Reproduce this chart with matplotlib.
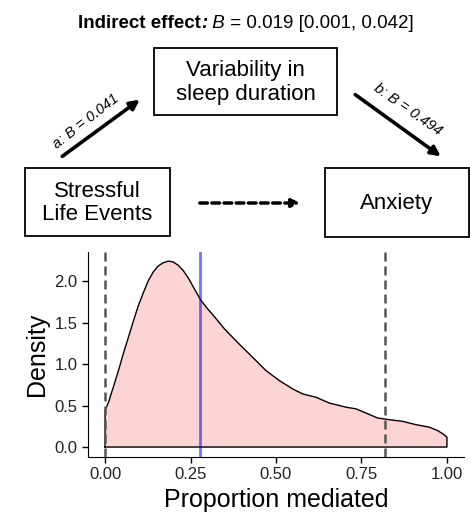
import numpy as np
import matplotlib.pyplot as plt
from matplotlib.patches import Rectangle, FancyArrowPatch

plt.rcParams['font.family'] = ['Liberation Sans', 'DejaVu Sans']

# density of proportion mediated
prop_x = [0.0, 0.010, 0.024, 0.039, 0.053, 0.068, 0.083, 0.097, 0.112, 0.126,
          0.141, 0.155, 0.170, 0.185, 0.199, 0.214, 0.228, 0.243, 0.262, 0.280,
          0.301, 0.316, 0.350, 0.390, 0.432, 0.471, 0.510, 0.549, 0.578, 0.617,
          0.656, 0.705, 0.734, 0.763, 0.797, 0.831, 0.870, 0.909, 0.948, 0.972,
          0.988, 1.0]
density = [0.44, 0.54, 0.72, 0.92, 1.12, 1.32, 1.52, 1.70, 1.86, 2.00,
           2.11, 2.18, 2.22, 2.24, 2.23, 2.19, 2.13, 2.04, 1.90, 1.77,
           1.66, 1.59, 1.42, 1.25, 1.08, 0.92, 0.80, 0.70, 0.64, 0.60,
           0.53, 0.48, 0.46, 0.41, 0.35, 0.33, 0.31, 0.27, 0.24, 0.20,
           0.16, 0.12]
ci_bounds = [0.0, 0.82]
point_est = 0.278
x_ticks = [0.0, 0.25, 0.5, 0.75, 1.0]
y_ticks = [0.0, 0.5, 1.0, 1.5, 2.0]

fig = plt.figure(figsize=(4.7, 5.17), dpi=100)

# ---- density panel ----
ax = fig.add_axes([88/470, 60/517, 376/470, 205/517])
px = np.array(prop_x)
py = np.array(density)
ax.fill_between(px, 0, py, color='#fdd4d4', lw=0)
ax.plot(np.r_[px[0], px, px[-1], px[0]], np.r_[0, py, 0, 0], color='black',
        lw=1, solid_joinstyle='round')
for c in ci_bounds:
    ax.axvline(c, color='#555555', lw=1.8, dashes=(3.6, 2))
ax.axvline(point_est, color='blue', alpha=0.55, lw=2)
ax.set_xlim(-0.05, 1.05)
ax.set_ylim(-0.12, 2.35)
ax.set_xticks(x_ticks)
ax.set_xticklabels(['0.00', '0.25', '0.50', '0.75', '1.00'])
ax.set_yticks(y_ticks)
ax.set_yticklabels(['0.0', '0.5', '1.0', '1.5', '2.0'])
ax.tick_params(labelsize=12, labelcolor='#222222', color='black', length=4, width=1)
for s in ['top', 'right']:
    ax.spines[s].set_visible(False)
ax.set_xlabel('Proportion mediated', fontsize=18, labelpad=4)
ax.set_ylabel('Density', fontsize=18, labelpad=4)

# ---- mediation diagram ----
ov = fig.add_axes([0, 0, 1, 1])
ov.set_xlim(0, 470)
ov.set_ylim(517, 0)
ov.axis('off')

boxes = [
    (154, 48, 183, 67, 'Variability in\nsleep duration'),
    (25, 168, 145, 68, 'Stressful\nLife Events'),
    (325, 168, 144, 69, 'Anxiety'),
]
for bx, by, bw, bh, label in boxes:
    ov.add_patch(Rectangle((bx, by), bw, bh, fill=False, ec='black', lw=1.3))
    ov.text(bx + bw/2, by + bh/2 + 1, label, ha='center', va='center',
            fontsize=16, linespacing=1.15)

ov.add_patch(FancyArrowPatch((60, 158), (142, 98), arrowstyle='-|>',
                             mutation_scale=14, lw=2.6, color='black'))
ov.add_patch(FancyArrowPatch((353, 93), (443, 158), arrowstyle='-|>',
                             mutation_scale=14, lw=2.6, color='black'))
ov.add_patch(FancyArrowPatch((197, 203), (303, 203), arrowstyle='-|>',
                             mutation_scale=12, lw=2.5, color='black',
                             linestyle=(0, (2.2, 1.3))))

ov.text(86, 121, 'a: B = 0.041', rotation=38, ha='center', va='center',
        fontsize=10.5, style='italic')
ov.text(408, 110, 'b: B = 0.494', rotation=-35, ha='center', va='center',
        fontsize=10.5, style='italic')

# title built from pieces so each keeps its own style
t = ov.text(78, 28, 'Indirect effect', fontsize=13.5, weight='bold',
            ha='left', va='baseline')
pieces = [(':', dict(weight='bold', style='italic')),
          (' B', dict(style='italic')),
          (' = 0.019 [0.001, 0.042]', dict())]
for s, kw in pieces:
    t = ov.annotate(s, xy=(1, 0), xycoords=t, ha='left', va='bottom',
                    fontsize=13.5, **kw)

fig.savefig('out.png', dpi=100)
